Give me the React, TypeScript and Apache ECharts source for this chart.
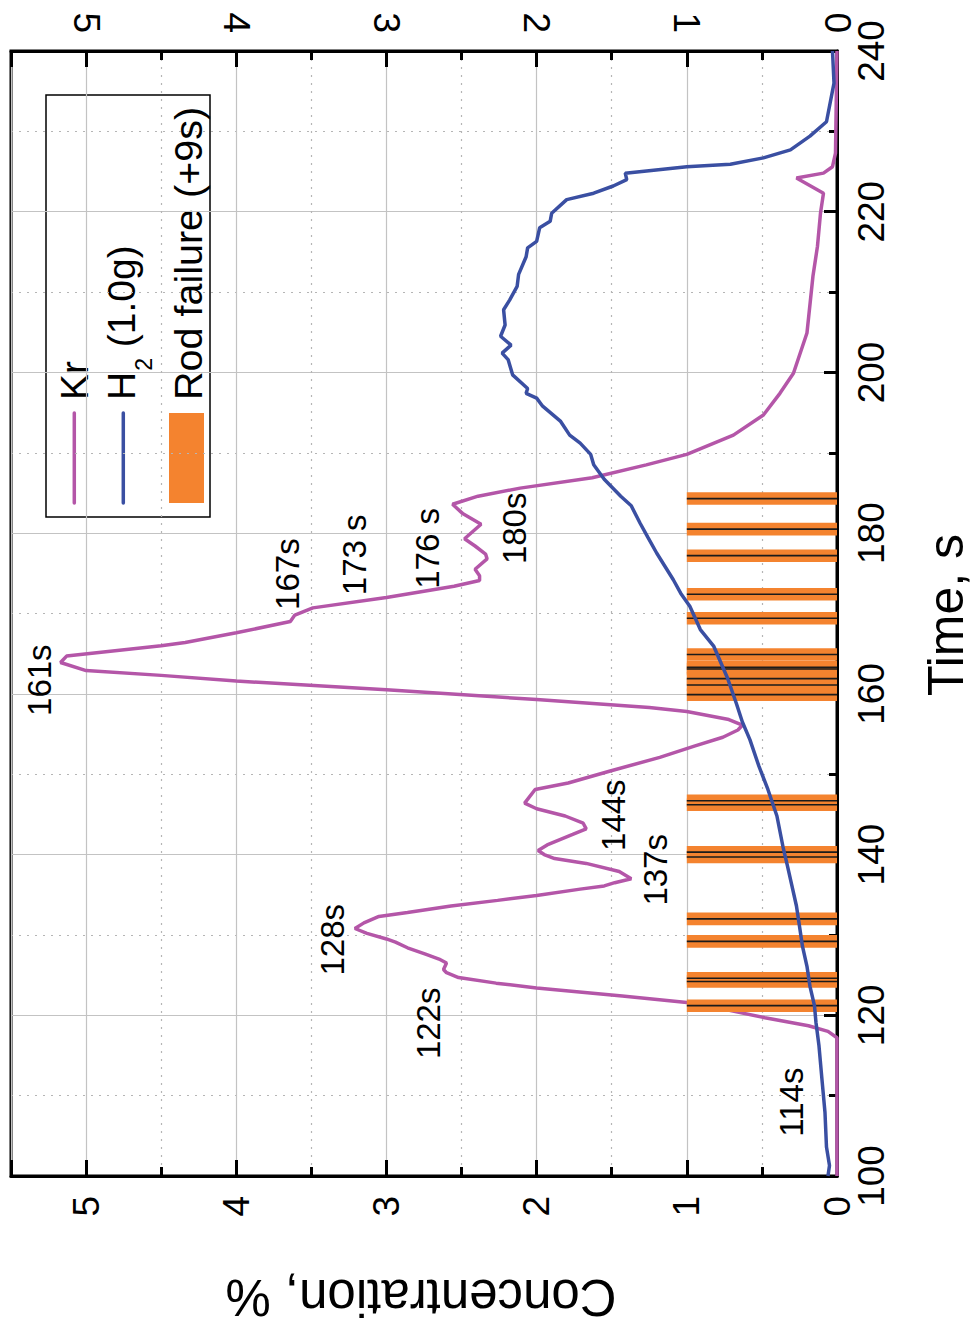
import React, { useEffect, useRef } from 'react';
import * as echarts from 'echarts';

// ---- data (time in s, concentration in %) ----
const krTime = [100, 117.2, 118.0, 118.7, 119.7, 120.7, 121.6, 122.4, 123.4, 124.0, 124.7, 125.3, 125.7, 126.5, 127.0, 127.6, 128.4, 129.1, 129.5, 130.2, 130.8, 131.5, 132.3, 132.8, 133.6, 134.3, 134.9, 135.7, 136.1, 136.5, 137.0, 137.9, 138.9, 139.5, 140.0, 140.5, 141.2, 142.5, 143.2, 143.9, 144.8, 145.7, 146.4, 148.1, 148.9, 150.4, 152.1, 153.5, 154.6, 155.5, 156.1, 156.8, 157.8, 158.3, 159.3, 160.5, 161.6, 162.3, 162.9, 163.9, 164.7, 166.0, 166.4, 167.6, 169.0, 169.8, 170.7, 172.0, 173.4, 174.1, 174.7, 175.5, 176.8, 177.4, 178.4, 179.3, 181.1, 182.4, 183.6, 184.6, 185.6, 186.9, 188.5, 189.8, 192.2, 194.7, 197.4, 199.9, 204.9, 212.0, 215.7, 219.8, 222.3, 224.2, 224.8, 225.6, 227.3, 240];
const krConc = [0, 0, 0.06, 0.19, 0.48, 0.74, 1.0, 1.43, 2.0, 2.27, 2.52, 2.6, 2.62, 2.6, 2.65, 2.74, 2.86, 2.94, 3.0, 3.13, 3.21, 3.15, 3.05, 2.86, 2.57, 2.26, 2.0, 1.71, 1.55, 1.48, 1.37, 1.45, 1.67, 1.88, 1.95, 1.99, 1.93, 1.76, 1.67, 1.69, 1.81, 2.0, 2.08, 2.01, 1.79, 1.51, 1.18, 0.95, 0.76, 0.66, 0.63, 0.72, 1.0, 1.25, 2.0, 3.0, 4.0, 4.5, 5.0, 5.17, 5.13, 4.5, 4.34, 4.0, 3.64, 3.61, 3.49, 3.0, 2.55, 2.38, 2.38, 2.41, 2.33, 2.34, 2.41, 2.48, 2.37, 2.49, 2.56, 2.39, 2.11, 1.63, 1.27, 1.0, 0.69, 0.49, 0.38, 0.29, 0.2, 0.16, 0.13, 0.11, 0.09, 0.27, 0.09, 0.03, 0.01, 0.0];

const h2Time = [100, 101.3, 103.6, 107.9, 112.0, 116.2, 119.1, 121.2, 123.6, 126.1, 128.6, 131.1, 133.6, 136.1, 138.6, 141.0, 144.8, 148.1, 151.0, 154.3, 156.5, 158.8, 162.0, 165.9, 168.0, 170.9, 172.5, 174.2, 177.5, 179.5, 181.2, 183.4, 184.6, 186.7, 188.5, 189.8, 191.2, 192.2, 193.9, 195.8, 196.8, 197.4, 198.0, 199.7, 201.6, 202.4, 203.4, 204.5, 205.9, 207.8, 209.0, 210.7, 212.2, 214.4, 215.5, 216.3, 218.0, 218.8, 219.8, 221.5, 222.3, 223.2, 224.0, 224.8, 225.6, 225.9, 226.7, 227.7, 229.4, 231.2, 236.0, 240];
const h2Conc = [0.06, 0.05, 0.07, 0.08, 0.1, 0.12, 0.14, 0.15, 0.18, 0.2, 0.23, 0.25, 0.27, 0.3, 0.33, 0.36, 0.4, 0.46, 0.52, 0.58, 0.63, 0.67, 0.73, 0.82, 0.91, 0.98, 1.04, 1.09, 1.2, 1.26, 1.31, 1.37, 1.44, 1.55, 1.62, 1.64, 1.71, 1.78, 1.84, 1.96, 2.0, 2.07, 2.06, 2.16, 2.19, 2.23, 2.17, 2.24, 2.21, 2.22, 2.18, 2.13, 2.12, 2.07, 2.06, 2.0, 1.98, 1.91, 1.9, 1.8, 1.62, 1.49, 1.40, 1.41, 1.0, 0.71, 0.49, 0.31, 0.18, 0.07, 0.02, 0.03];

// rod failure times (s), each drawn as a band from 0 to 1 %
const rodFailureTimes = [121.2, 124.2, 124.6, 129.2, 132.0, 139.7, 140.3, 146.2, 146.7, 159.9, 161.1, 161.9, 163.1, 163.3, 164.9, 169.4, 172.4, 177.2, 180.5, 184.3];
const rodBandHalfWidth = 0.78; // s
const rodBandTop = 1; // %

// annotations
const noteText = ['114s', '122s', '128s', '137s', '144s', '161s', '167s', '173 s', '176 s', '180s'];
const noteTime = [109.2, 119.0, 129.4, 138.1, 144.9, 161.7, 174.9, 177.3, 178.1, 180.6];
const noteConc = [0.30, 2.72, 3.36, 1.21, 1.49, 5.31, 3.66, 3.21, 2.73, 2.15];

const KR_COLOR = '#b456a8';
const H2_COLOR = '#3a4fa2';
const ORANGE = '#f4832f';
const FONT = '"Liberation Sans", Arial, Helvetica, sans-serif';

const App: React.FC = () => {
  const ref = useRef<HTMLDivElement>(null);

  useEffect(() => {
    if (!ref.current) return;
    const chart = echarts.init(ref.current, undefined, { renderer: 'svg' });

    const intLabel = (v: number) => (Math.abs(v - Math.round(v)) < 1e-9 ? String(Math.round(v)) : '');

    const concAxisBase = {
      type: 'value' as const,
      min: 0,
      max: 5.5,
      interval: 1,
      inverse: true,
      axisLine: { show: true, onZero: false, lineStyle: { color: '#000', width: 3 } },
      axisTick: { show: true, inside: true, length: 16, lineStyle: { color: '#000', width: 3 } },
      minorTick: { show: true, splitNumber: 2, length: 9, lineStyle: { color: '#000', width: 3 } },
    };

    const option: any = {
      animation: false,
      backgroundColor: '#fff',
      grid: {
        left: 11,
        right: 138,
        top: 51,
        bottom: 148,
        show: true,
        borderColor: '#000',
        borderWidth: 3,
        outerBoundsMode: 'none',
        containLabel: false,
      },
      xAxis: [
        {
          ...concAxisBase,
          position: 'bottom',
          splitLine: { show: true, lineStyle: { color: '#c3c3c3', width: 1.2 } },
          minorSplitLine: { show: true, lineStyle: { color: '#b5b5b5', width: 1.2, type: [2, 6] } },
          axisLabel: {
            show: true,
            rotate: 90,
            margin: 20,
            align: 'right',
            verticalAlign: 'middle',
            fontSize: 37,
            fontFamily: FONT,
            color: '#000',
            formatter: intLabel,
            showMaxLabel: false,
          },
        },
        {
          ...concAxisBase,
          position: 'top',
          splitLine: { show: false },
          minorSplitLine: { show: false },
          axisLabel: {
            show: true,
            rotate: 90,
            margin: 18,
            align: 'right',
            verticalAlign: 'middle',
            fontSize: 37,
            fontFamily: FONT,
            color: '#000',
            formatter: intLabel,
            showMaxLabel: false,
          },
        },
      ],
      yAxis: [
        {
          type: 'value',
          min: 100,
          max: 240,
          interval: 20,
          position: 'right',
          axisLine: { show: true, onZero: false, lineStyle: { color: '#000', width: 3 } },
          axisTick: { show: true, inside: true, length: 13, lineStyle: { color: '#000', width: 3 } },
          minorTick: { show: true, splitNumber: 2, length: 8, lineStyle: { color: '#000', width: 3 } },
          splitLine: { show: true, lineStyle: { color: '#c3c3c3', width: 1.2 } },
          minorSplitLine: { show: true, lineStyle: { color: '#b5b5b5', width: 1.2, type: [2, 6] } },
          axisLabel: {
            show: true,
            rotate: 90,
            margin: 16,
            align: 'center',
            verticalAlign: 'top',
            fontSize: 37,
            fontFamily: FONT,
            color: '#000',
          },
        },
      ],
      series: [
        {
          name: 'Kr',
          type: 'line',
          z: 2,
          xAxisIndex: 0,
          yAxisIndex: 0,
          showSymbol: false,
          symbol: 'none',
          clip: true,
          lineStyle: { color: KR_COLOR, width: 3.5 },
          data: krTime.map((t, i) => [krConc[i], t]),
        },
        {
          name: 'Rod failure (+9s)',
          type: 'custom',
          z: 3,
          xAxisIndex: 0,
          yAxisIndex: 0,
          silent: true,
          data: rodFailureTimes.map((t) => [rodBandTop, t]),
          renderItem: (params: any, api: any) => {
            const top = api.value(0);
            const t = api.value(1);
            const a = api.coord([0, t - rodBandHalfWidth]);
            const b = api.coord([top, t + rodBandHalfWidth]);
            const c0 = api.coord([0, t]);
            const c1 = api.coord([top, t]);
            return {
              type: 'group',
              children: [
                {
                  type: 'rect',
                  z2: 1,
                  shape: {
                    x: Math.min(a[0], b[0]),
                    y: Math.min(a[1], b[1]),
                    width: Math.abs(b[0] - a[0]),
                    height: Math.abs(b[1] - a[1]),
                  },
                  style: { fill: ORANGE },
                },
                {
                  type: 'line',
                  z2: 10,
                  shape: { x1: c0[0], y1: c0[1], x2: c1[0], y2: c1[1] },
                  style: { stroke: '#1b1b1b', lineWidth: 1.6 },
                },
              ],
            };
          },
        },
        {
          name: 'H2',
          type: 'line',
          z: 4,
          xAxisIndex: 0,
          yAxisIndex: 0,
          showSymbol: false,
          symbol: 'none',
          clip: true,
          lineStyle: { color: H2_COLOR, width: 3.5 },
          data: h2Time.map((t, i) => [h2Conc[i], t]),
        },
        {
          name: 'notes',
          type: 'scatter',
          z: 5,
          xAxisIndex: 0,
          yAxisIndex: 0,
          silent: true,
          symbol: 'circle',
          symbolSize: 0,
          itemStyle: { color: '#000' },
          label: {
            show: true,
            position: 'inside',
            rotate: 90,
            align: 'center',
            verticalAlign: 'middle',
            fontSize: 33,
            fontFamily: FONT,
            color: '#000',
            opacity: 1,
            textBorderWidth: 0,
            formatter: (p: any) => p.value[2],
          },
          data: noteTime.map((t, i) => [noteConc[i], t, noteText[i]]),
        },
      ],
      graphic: [
        {
          type: 'text',
          x: 946,
          y: 615,
          rotation: Math.PI / 2,
          style: {
            text: 'Time, s',
            fontSize: 50,
            fontFamily: FONT,
            fill: '#000',
            align: 'center',
            verticalAlign: 'middle',
          },
        },
        {
          type: 'text',
          x: 421,
          y: 1297,
          rotation: Math.PI,
          style: {
            text: 'Concentration, %',
            fontSize: 51,
            fontFamily: FONT,
            fill: '#000',
            align: 'center',
            verticalAlign: 'middle',
          },
        },
        {
          type: 'group',
          x: 46,
          y: 517,
          rotation: Math.PI / 2,
          z: 100,
          children: [
            {
              type: 'rect',
              shape: { x: 0, y: 0, width: 422, height: 164 },
              style: { fill: '#fff', stroke: '#000', lineWidth: 1.5 },
            },
            {
              type: 'line',
              shape: { x1: 14, y1: 28.3, x2: 104, y2: 28.3 },
              style: { stroke: KR_COLOR, lineWidth: 3.5, lineCap: 'round' },
            },
            {
              type: 'text',
              x: 117,
              y: 28,
              style: { text: 'Kr', fontSize: 39, fontFamily: FONT, fill: '#000', align: 'left', verticalAlign: 'middle' },
            },
            {
              type: 'line',
              shape: { x1: 14, y1: 77.3, x2: 104, y2: 77.3 },
              style: { stroke: H2_COLOR, lineWidth: 3.5, lineCap: 'round' },
            },
            {
              type: 'text',
              x: 117,
              y: 55.5,
              style: {
                text: '{a|H}{b|2}{a| (1.0g)}',
                align: 'left',
                verticalAlign: 'top',
                fill: '#000',
                rich: {
                  a: { fontSize: 39, fontFamily: FONT, lineHeight: 44, verticalAlign: 'top', fill: '#000' },
                  b: { fontSize: 23, fontFamily: FONT, lineHeight: 24, verticalAlign: 'top', padding: [31, 0, 0, 1], fill: '#000' },
                },
              },
            },
            {
              type: 'rect',
              shape: { x: 14, y: 123, width: 90, height: 35 },
              style: { fill: ORANGE },
            },
            {
              type: 'text',
              x: 117,
              y: 141.5,
              style: { text: 'Rod failure (+9s)', fontSize: 39.5, fontFamily: FONT, fill: '#000', align: 'left', verticalAlign: 'middle' },
            },
          ],
        },
      ],
    };

    chart.setOption(option);
    return () => chart.dispose();
  }, []);

  return (
    <div
      ref={ref}
      style={{ position: 'absolute', left: 0, top: 0, width: 975, height: 1324, background: '#fff' }}
    />
  );
};

export default App;
